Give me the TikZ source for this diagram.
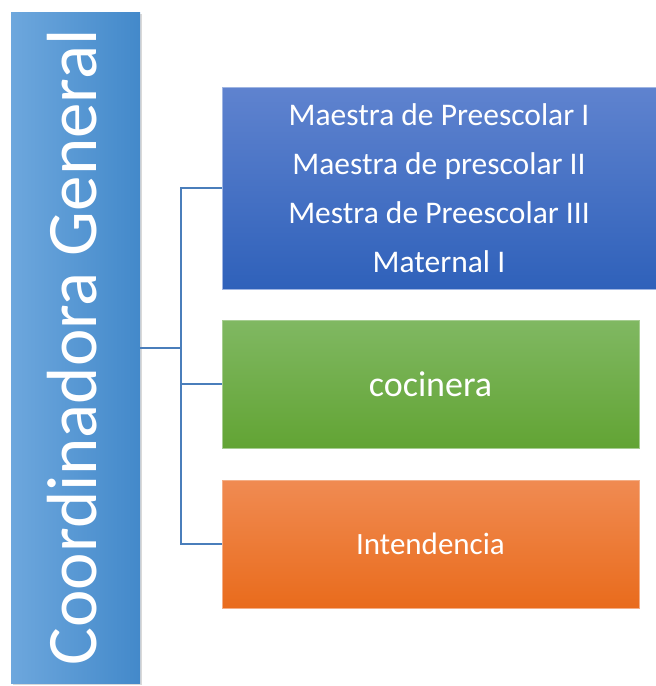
\documentclass[tikz,border=0pt]{standalone}
\usepackage{fontspec}
\setmainfont{Carlito}
\usepackage{tikz}
\usetikzlibrary{shadows}

\definecolor{linkblue}{HTML}{4A7EBB}
\definecolor{cglight}{HTML}{6DA7DD}
\definecolor{cgdark}{HTML}{4389CA}
\definecolor{mtop}{HTML}{5F83CF}
\definecolor{mbot}{HTML}{2F61BA}
\definecolor{ctop}{HTML}{80B862}
\definecolor{cbot}{HTML}{62A434}
\definecolor{itop}{HTML}{F08B52}
\definecolor{ibot}{HTML}{E96B1C}

\begin{document}
\begin{tikzpicture}[x=1pt, y=1pt,
    link/.style={draw=linkblue, line width=2.5pt},
    area/.style={rectangle, minimum width=434pt, minimum height=202pt, text=white, align=center}]
        \useasboundingbox (0,0) rectangle (656,-686);

        % coordinadora
        \node[rectangle, rotate=90, minimum width=671pt, minimum height=129pt,
              left color=cglight, right color=cgdark, text=white, text depth=8pt,
              font=\fontsize{71}{80}\selectfont,
              drop shadow={shadow xshift=1.5pt, shadow yshift=-1.5pt, opacity=0.3}]
              (CG) at (75.5,-347.5) {Coordinadora General};

        % areas
        \node[area, top color=mtop, bottom color=mbot, draw=mtop!60!white, line width=0.8pt,
              font=\fontsize{31.5}{49}\selectfont]
              (Maestras) at (439,-188) {Maestra de Preescolar I\\ Maestra de prescolar II\\ Mestra de Preescolar III\\ Maternal I};
        \node[area, minimum width=417pt, minimum height=128pt, top color=ctop, bottom color=cbot,
              draw=ctop!70!white, line width=0.8pt, font=\fontsize{36}{43}\selectfont]
              (Cocinera) at (430.5,-384) {cocinera};
        \node[area, minimum width=417pt, minimum height=128pt, top color=itop, bottom color=ibot,
              draw=itop!70!white, line width=0.8pt, font=\fontsize{31}{37}\selectfont]
              (Intendencia) at (430.5,-544) {Intendencia};

        \coordinate (hub) at (181,-348);

        \draw[link] (CG.south |- hub) -- (hub);
        \draw[link] (hub) |- (Maestras.west);
        \draw[link] (hub) |- (Cocinera.west);
        \draw[link] (hub) |- (Intendencia.west);
    \end{tikzpicture}
\end{document}
